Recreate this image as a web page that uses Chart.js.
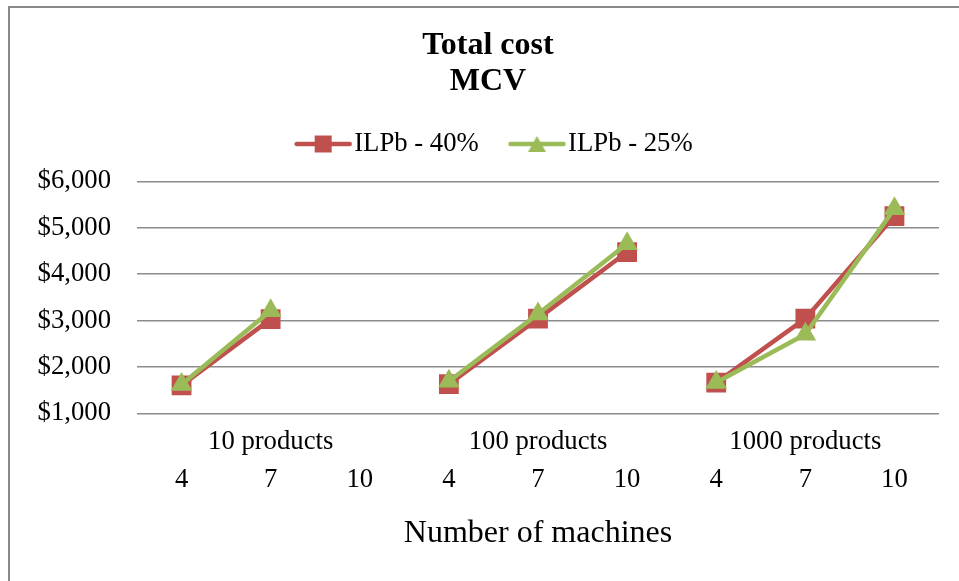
<!DOCTYPE html>
<html>
<head>
<meta charset="utf-8">
<title>Total cost MCV</title>
<script src="https://cdn.jsdelivr.net/npm/chart.js@4.4.1/dist/chart.umd.min.js"></script>
<style>
  body { margin: 0; background: #fff; }
  #wrap { position: relative; width: 959px; height: 581px; }
  #frame {
    position: absolute; left: 8px; top: 6px; right: 0; bottom: 0;
    border-top: 2px solid #8a8a8a; border-left: 2px solid #8a8a8a;
    pointer-events: none;
  }
</style>
</head>
<body>
<div id="wrap">
  <canvas id="chart" width="959" height="581"></canvas>
  <div id="frame"></div>
</div>
<script>
// datos
const groups = ['10 products', '100 products', '1000 products'];
const machines = ['4', '7', '10'];
const ilpb40 = [1600, 3030, null, 1630, 3040, 4475, 1660, 3040, 5250];
const ilpb25 = [1620, 3210, null, 1690, 3140, 4655, 1665, 2705, 5410];
const yTicks = [1000, 2000, 3000, 4000, 5000, 6000];

const RED = '#C0504D';
const GREEN = '#9BBB59';
const FONT = "'Liberation Serif', 'Times New Roman', serif";

Chart.defaults.font.family = FONT;
Chart.defaults.color = '#000';

// una categoría por (grupo, máquinas)
const labels = groups.flatMap(() => machines);

// icono de leyenda: línea + marcador
function legendIcon(color, style) {
  const c = document.createElement('canvas');
  c.width = 91; c.height = 22;
  const ctx = c.getContext('2d');
  ctx.strokeStyle = color;
  ctx.fillStyle = color;
  ctx.lineWidth = 4.5;
  ctx.lineCap = 'round';
  ctx.beginPath();
  ctx.moveTo(30, 11); ctx.lineTo(83, 11);
  ctx.stroke();
  const cx = 56.5;
  if (style === 'rect') {
    ctx.fillRect(cx - 8.5, 11 - 8.5, 17, 17);
  } else {
    ctx.beginPath();
    ctx.moveTo(cx, 3); ctx.lineTo(cx + 9, 19); ctx.lineTo(cx - 9, 19);
    ctx.closePath(); ctx.fill();
  }
  return c;
}
const icons = [legendIcon(RED, 'rect'), legendIcon(GREEN, 'triangle')];

// no unir los puntos entre grupos distintos
const groupBreak = (ctx) => (ctx.p1DataIndex % machines.length === 0 ? 'transparent' : undefined);

const legendGap = {
  id: 'legendGap',
  beforeInit(chart) {
    const fit = chart.legend.fit;
    chart.legend.fit = function () {
      fit.bind(chart.legend)();
      this.height += 14;
    };
  }
};

new Chart(document.getElementById('chart'), {
  type: 'line',
  data: {
    labels: labels,
    datasets: [
      {
        label: 'ILPb - 40%',
        data: ilpb40,
        xAxisID: 'x',
        yAxisID: 'y',
        borderColor: RED,
        backgroundColor: RED,
        borderWidth: 4.5,
        pointStyle: 'rect',
        pointRadius: 14,
        pointBorderWidth: 0,
        spanGaps: false,
        segment: { borderColor: groupBreak },
        order: 1
      },
      {
        label: 'ILPb - 25%',
        data: ilpb25,
        xAxisID: 'x',
        yAxisID: 'y',
        borderColor: GREEN,
        backgroundColor: GREEN,
        borderWidth: 4.5,
        pointStyle: 'triangle',
        pointRadius: 12.5,
        pointBorderWidth: 0,
        spanGaps: false,
        segment: { borderColor: groupBreak },
        order: 0
      }
    ]
  },
  options: {
    responsive: false,
    animation: false,
    layout: { padding: { left: 37, right: 20, top: 0, bottom: 28.3 } },
    plugins: {
      title: {
        display: true,
        text: ['Total cost', 'MCV'],
        font: { size: 32, weight: 'bold', lineHeight: 1.15 },
        padding: { top: 27, bottom: 11.5 }
      },
      legend: {
        display: true,
        position: 'top',
        labels: {
          font: { size: 26.7 },
          padding: 18.5,
          usePointStyle: true,
          pointStyleWidth: 57.5,
          generateLabels(chart) {
            const items = Chart.defaults.plugins.legend.labels.generateLabels(chart);
            items.sort((a, b) => a.datasetIndex - b.datasetIndex);
            items.forEach(it => { it.pointStyle = icons[it.datasetIndex]; });
            return items;
          }
        }
      },
      tooltip: { enabled: false }
    },
    scales: {
      x: {
        type: 'category',
        position: 'bottom',
        weight: 1,
        offset: true,
        ticks: { padding: 7, font: { size: 26.7 }, maxRotation: 0, autoSkip: false },
        grid: { display: false, drawTicks: false },
        border: { display: false },
        title: {
          display: true,
          text: 'Number of machines',
          font: { size: 32 },
          padding: { top: 19, bottom: 0 }
        },
        afterFit(scale) { scale.height = 95.4; }
      },
      x2: {
        type: 'category',
        position: 'bottom',
        weight: 0,
        labels: groups,
        offset: true,
        ticks: { padding: 13, font: { size: 26.7 }, maxRotation: 0, autoSkip: false },
        grid: { display: false, drawTicks: false },
        border: { display: false },
        afterFit(scale) { scale.height = 44; }
      },
      y: {
        position: 'left',
        min: yTicks[0],
        max: yTicks[yTicks.length - 1],
        afterBuildTicks(scale) { scale.ticks = yTicks.map(v => ({ value: v })); },
        ticks: {
          padding: 26,
          font: { size: 26.7 },
          callback: (v) => '$' + v.toLocaleString('en-US')
        },
        grid: { color: '#8c8c8c', lineWidth: 1.4, drawTicks: false },
        border: { display: false },
        afterFit(scale) { scale.width = 100; }
      }
    }
  },
  plugins: [legendGap]
});
</script>
</body>
</html>
